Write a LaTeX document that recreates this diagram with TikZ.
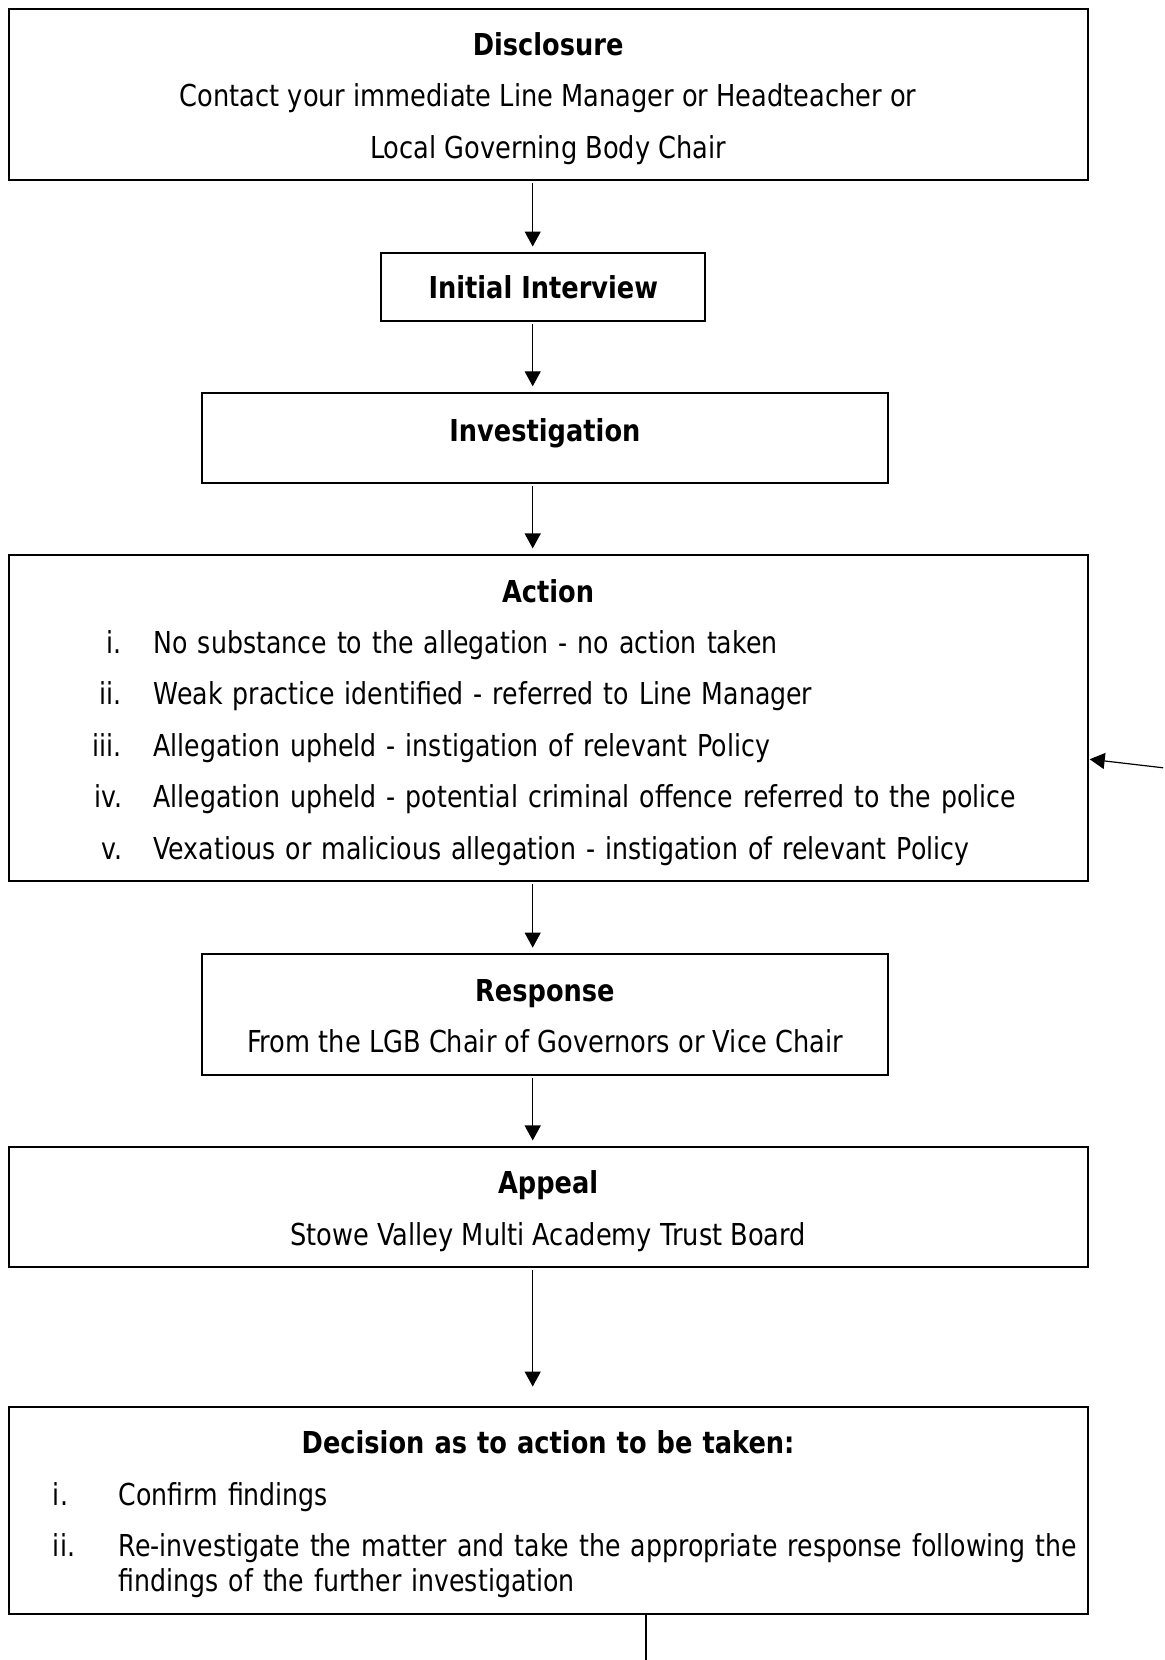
\documentclass[tikz,border=0pt]{standalone}
\usepackage{fontspec}
\setmainfont{DejaVu Sans}[FakeStretch=0.85]
\newfontfamily\serre{DejaVu Sans}[FakeStretch=0.835]
\usetikzlibrary{arrows.meta,calc}
\newcommand{\haut}{\rule{0pt}{15.7pt}}

\begin{document}
\begin{tikzpicture}[x=0.5pt,y=-0.5pt,
  boite/.style={draw,line width=1pt,inner sep=0pt,align=center,
    font=\fontsize{15.1}{25.7}\selectfont},
  liste/.style={boite,align=left,text width=539.6pt},
  fleche/.style={-{Triangle[length=7.5pt,width=8pt]},line width=0.6pt,
    shorten <=1pt,shorten >=2.8pt}]
  \useasboundingbox (0,0) rectangle (1165,1660);
  % Axe des fleches
  \coordinate (axe) at (532.7,0);

  % Divulgation
  \node[boite,minimum width=539.6pt,minimum height=85.75pt] (disc) at (548.1,94.25)
    {\haut\textbf{Disclosure}\\Contact your immediate Line Manager or Headteacher or\\Local Governing Body Chair};
  % Entretien initial
  \node[boite,minimum width=162pt,minimum height=33.9pt] (init) at (543.3,287)
    {\textbf{Initial Interview}};
  % Enquete
  \node[boite,minimum width=342.6pt,minimum height=45pt,text depth=12pt] (inv) at (544.9,437.9)
    {\haut\textbf{Investigation}};
  % Mesures
  \node[liste,minimum height=163.1pt] (act) at (548.1,718.1)
    {\haut\makebox[\linewidth]{\textbf{Action}}\\ \serre
     \makebox[56.75pt][r]{i.}\hspace{15.8pt}No substance to the allegation - no action taken\\
     \makebox[56.75pt][r]{ii.}\hspace{15.8pt}Weak practice identified - referred to Line Manager\\
     \makebox[56.75pt][r]{iii.}\hspace{15.8pt}Allegation upheld - instigation of relevant Policy\\
     \makebox[56.75pt][r]{iv.}\hspace{15.8pt}Allegation upheld - potential criminal offence referred to the police\\
     \makebox[56.75pt][r]{v.}\hspace{15.8pt}Vexatious or malicious allegation - instigation of relevant Policy};
  % Reponse
  \node[boite,minimum width=342.6pt,minimum height=60.4pt] (rep) at (544.9,1014.6)
    {\rule{0pt}{12.5pt}\textbf{Response}\\From the LGB Chair of Governors or Vice Chair};
  % Recours
  \node[boite,minimum width=539.6pt,minimum height=59.85pt] (app) at (548.1,1206.9)
    {\haut\textbf{Appeal}\\Stowe Valley Multi Academy Trust Board};
  % Decision
  \node[liste,minimum height=103.75pt] (dec) at (548.1,1510.3)
    {\haut\makebox[\linewidth]{\textbf{Decision as to action to be taken:}}\\ \serre
     \hspace*{22.25pt}\makebox[32.8pt][l]{i.}Confirm findings\\
     \hspace*{22.25pt}\makebox[32.8pt][l]{ii.}\makebox[477pt][s]{Re-investigate the matter and take the appropriate response following the}\\[-8.2pt]
     \hspace*{55.05pt}findings of the further investigation};

  % Fleches verticales
  \draw[fleche] (disc.south -| axe) -- (init.north -| axe);
  \draw[fleche] (init.south -| axe) -- (inv.north -| axe);
  \draw[fleche] (inv.south -| axe) -- (act.north -| axe);
  \draw[fleche] (act.south -| axe) -- (rep.north -| axe);
  \draw[fleche] (rep.south -| axe) -- (app.north -| axe);
  \draw[fleche,shorten >=9.5pt] (app.south -| axe) -- (dec.north -| axe);
  % Retour vers Action
  \coordinate (retour) at (1165,768);
  \draw[fleche,shorten >=0.5pt] (retour) -- ($(act.east)+(0,41)$);
  % Sortie en bas
  \coordinate (sortie) at (646,1660);
  \draw[line width=0.6pt] (dec.south -| sortie) -- (sortie);
\end{tikzpicture}
\end{document}
